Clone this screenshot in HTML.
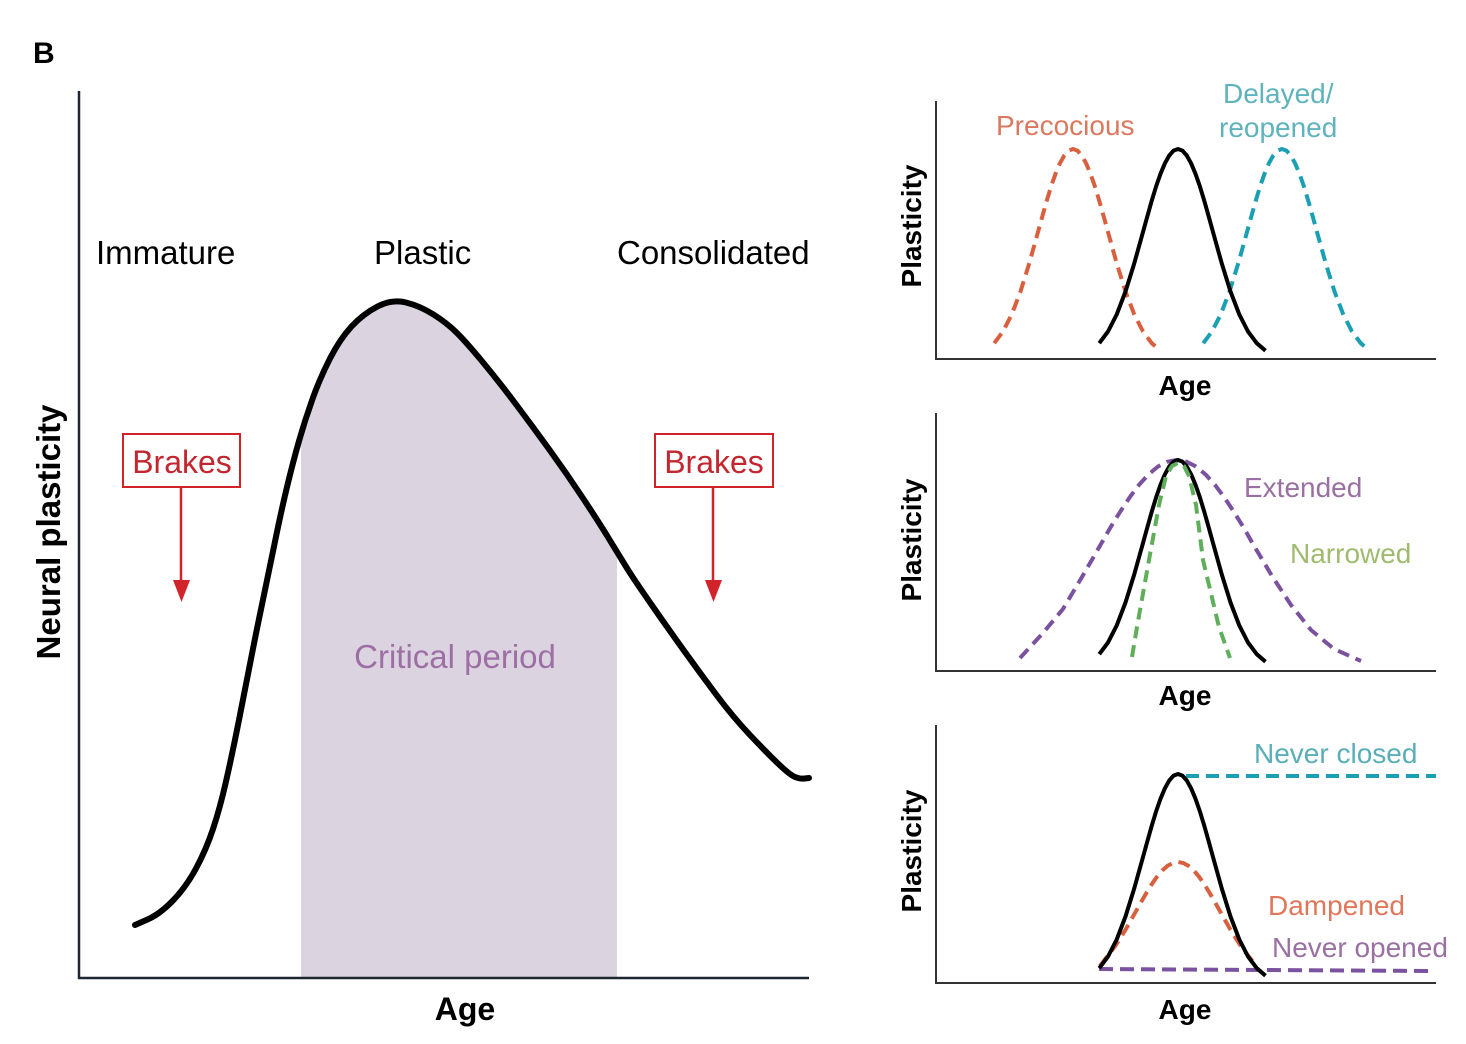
<!DOCTYPE html>
<html>
<head>
<meta charset="utf-8">
<style>
  html, body { margin: 0; padding: 0; background: #ffffff; }
  svg { display: block; }
  text { font-family: "Liberation Sans", Arial, sans-serif; }
</style>
</head>
<body>
<svg width="1466" height="1044" viewBox="0 0 1466 1044" xmlns="http://www.w3.org/2000/svg">
  <rect x="0" y="0" width="1466" height="1044" fill="#ffffff"/>
  <defs>
    <path id="bell" d="M-78.75,194.2 L-70,182.5 L-61.25,165.4 L-52.5,142.5 L-43.75,114.4 L-35,83 L-30.6,67.1 L-26.25,51.7 L-21.9,37.4 L-17.5,24.8 L-13.1,14.3 L-8.75,6.5 L-4.4,1.6 L0,0 L4.4,1.6 L8.75,6.5 L13.1,14.3 L17.5,24.8 L21.9,37.4 L26.25,51.7 L30.6,67.1 L35,83 L43.75,114.4 L52.5,142.5 L61.25,165.4 L70,182.5 L78.75,194.2 L87.5,201.7"/>
    <path id="maincurve" d="M135,925 L147.5,919.5 Q160,914 173,900.5 Q186,887 196,868.5 Q206,850 213,829 Q220,808 226,781.5 Q232,755 238,725 Q244,695 250,664 Q256,633 262,604.5 Q268,576 274.5,544 Q281,512 287,487 Q293,462 299,441 Q305,420 312.5,399 Q320,378 330,358.5 Q340,339 351.5,326.5 Q363,314 377.5,306.5 Q392,299 406,302.5 Q420,306 433.5,314.5 Q447,323 457,333 Q467,343 483.5,363 Q500,383 516.5,405 Q533,427 550,450.5 Q567,474 583.5,499 Q600,524 608.5,538 Q617,552 625,565 Q633,578 650,602.5 Q667,627 683.5,650 Q700,673 716.5,695 Q733,717 750,735 Q767,753 778.5,764 Q790,775 795,777 Q800,779 804.5,778.5 L809,778"/>
    <clipPath id="under">
      <path d="M135,925 L147.5,919.5 Q160,914 173,900.5 Q186,887 196,868.5 Q206,850 213,829 Q220,808 226,781.5 Q232,755 238,725 Q244,695 250,664 Q256,633 262,604.5 Q268,576 274.5,544 Q281,512 287,487 Q293,462 299,441 Q305,420 312.5,399 Q320,378 330,358.5 Q340,339 351.5,326.5 Q363,314 377.5,306.5 Q392,299 406,302.5 Q420,306 433.5,314.5 Q447,323 457,333 Q467,343 483.5,363 Q500,383 516.5,405 Q533,427 550,450.5 Q567,474 583.5,499 Q600,524 608.5,538 Q617,552 625,565 Q633,578 650,602.5 Q667,627 683.5,650 Q700,673 716.5,695 Q733,717 750,735 Q767,753 778.5,764 Q790,775 795,777 Q800,779 804.5,778.5 L809,778 L809,978 L135,978 Z"/>
    </clipPath>
  </defs>

  <!-- Panel label -->
  <text x="33" y="63" font-size="30" font-weight="bold" fill="#000">B</text>

  <!-- ===== Main chart ===== -->
  <rect x="301" y="250" width="316" height="728" fill="#dcd3e1" clip-path="url(#under)"/>

  <!-- axes -->
  <line x1="79" y1="91" x2="79" y2="979" stroke="#1c2730" stroke-width="2.5"/>
  <line x1="78" y1="978" x2="809" y2="978" stroke="#1c2730" stroke-width="2.5"/>

  <!-- main curve -->
  <use href="#maincurve" fill="none" stroke="#000" stroke-width="6" stroke-linejoin="round" stroke-linecap="round"/>

  <!-- stage labels -->
  <text x="96" y="264" font-size="33" fill="#000">Immature</text>
  <text x="374" y="264" font-size="33" fill="#000">Plastic</text>
  <text x="617" y="264" font-size="33" fill="#000">Consolidated</text>

  <!-- brakes left -->
  <rect x="123" y="434" width="117" height="53" fill="#fff" stroke="#d2232a" stroke-width="2"/>
  <text x="182" y="473" font-size="32" fill="#c3262e" text-anchor="middle">Brakes</text>
  <line x1="181" y1="487" x2="181" y2="584" stroke="#d2232a" stroke-width="2.5"/>
  <polygon points="173,580 190,580 181.5,602" fill="#d2232a"/>

  <!-- brakes right -->
  <rect x="655" y="434" width="118" height="53" fill="#fff" stroke="#d2232a" stroke-width="2"/>
  <text x="714" y="473" font-size="32" fill="#c3262e" text-anchor="middle">Brakes</text>
  <line x1="713" y1="487" x2="713" y2="584" stroke="#d2232a" stroke-width="2.5"/>
  <polygon points="705,580 722,580 713.5,602" fill="#d2232a"/>

  <!-- critical period -->
  <text x="455" y="668" font-size="33" fill="#9d6fa5" text-anchor="middle">Critical period</text>

  <!-- axis titles -->
  <text transform="translate(60,532) rotate(-90)" font-size="33" font-weight="bold" fill="#000" text-anchor="middle">Neural plasticity</text>
  <text x="465" y="1020" font-size="32" font-weight="bold" fill="#000" text-anchor="middle">Age</text>

  <!-- ===== Panel 1 ===== -->
  <line x1="936" y1="101" x2="936" y2="360" stroke="#333" stroke-width="2"/>
  <line x1="935" y1="359" x2="1436" y2="359" stroke="#333" stroke-width="2"/>
  <text transform="translate(921,226) rotate(-90)" font-size="28" font-weight="bold" fill="#000" text-anchor="middle">Plasticity</text>
  <text x="1185" y="395" font-size="28" font-weight="bold" fill="#000" text-anchor="middle">Age</text>

  <g fill="none" stroke-width="4" stroke-linejoin="round">
    <use href="#bell" transform="translate(1073,149)" stroke="#d9603f" stroke-dasharray="12 7"/>
    <use href="#bell" transform="translate(1282,149)" stroke="#1b9fb3" stroke-dasharray="12 7"/>
    <use href="#bell" transform="translate(1178,149)" stroke="#000"/>
  </g>
  <text x="996" y="135" font-size="28" fill="#d97a60">Precocious</text>
  <text x="1223" y="103" font-size="28" fill="#5fb3bc">Delayed/</text>
  <text x="1219" y="137" font-size="28" fill="#5fb3bc">reopened</text>

  <!-- ===== Panel 2 ===== -->
  <line x1="936" y1="413" x2="936" y2="672" stroke="#333" stroke-width="2"/>
  <line x1="935" y1="671" x2="1436" y2="671" stroke="#333" stroke-width="2"/>
  <text transform="translate(921,540) rotate(-90)" font-size="28" font-weight="bold" fill="#000" text-anchor="middle">Plasticity</text>
  <text x="1185" y="705" font-size="28" font-weight="bold" fill="#000" text-anchor="middle">Age</text>

  <g fill="none" stroke-width="4" stroke-linejoin="round">
    <path transform="translate(1177,460)" stroke="#7a52a0" stroke-dasharray="12 7"
      d="M-157,198 L-134,173 L-114,149 L-95,117 L-76,84 L-66.5,67.4 L-57,52 L-47.5,37.6 L-38,24.9 L-28.5,14.4 L-19,6.5 L-9.5,1.7 L0,0 L9.5,1.7 L19,6.5 L28.5,14.4 L38,24.9 L47.5,37.6 L57,52 L66.5,67.4 L76,84 L95,116 L114,145 L134,170 L157,189 L184,201"/>
    <use href="#bell" transform="translate(1178,460)" stroke="#000"/>
    <path stroke="#5eae5a" stroke-dasharray="12 7"
      d="M1132,657 L1137,627 L1149,560 L1159,505 L1166,476 L1172,466 L1178,463 L1184,466 L1189,476 L1196,505 L1203,560 L1219,627 L1230,658"/>
  </g>
  <text x="1244" y="497" font-size="28" fill="#9a70a2">Extended</text>
  <text x="1290" y="563" font-size="28" fill="#9fbb6d">Narrowed</text>

  <!-- ===== Panel 3 ===== -->
  <line x1="936" y1="725" x2="936" y2="984" stroke="#333" stroke-width="2"/>
  <line x1="935" y1="983" x2="1436" y2="983" stroke="#333" stroke-width="2"/>
  <text transform="translate(921,851) rotate(-90)" font-size="28" font-weight="bold" fill="#000" text-anchor="middle">Plasticity</text>
  <text x="1185" y="1019" font-size="28" font-weight="bold" fill="#000" text-anchor="middle">Age</text>

  <g fill="none" stroke-width="4" stroke-linejoin="round">
    <line x1="1186" y1="776" x2="1436" y2="776" stroke="#1b9fb3" stroke-dasharray="13 7"/>
    <line x1="1099" y1="969" x2="1430" y2="971" stroke="#7a52a0" stroke-dasharray="14 7"/>
    <path transform="translate(1178,862)" stroke="#d9603f" stroke-dasharray="12 7"
      d="M-78,104 L-73.5,98 L-63,84.4 L-52.5,67.8 L-42,49.2 L-36.75,39.8 L-31.5,30.7 L-26.25,22.2 L-21,14.7 L-15.75,8.5 L-10.5,3.85 L-5.25,1 L0,0 L5.25,1 L10.5,3.85 L15.75,8.5 L21,14.7 L26.25,22.2 L31.5,30.7 L36.75,39.8 L42,49.2 L52.5,67.8 L63,84.4 L73.5,98 L79,104"/>
    <use href="#bell" transform="translate(1178,774)" stroke="#000"/>
  </g>
  <text x="1254" y="763" font-size="28" fill="#5aaeb8">Never closed</text>
  <text x="1268" y="915" font-size="28" fill="#e0775a">Dampened</text>
  <text x="1272" y="957" font-size="28" fill="#9a70a2">Never opened</text>
</svg>
</body>
</html>
